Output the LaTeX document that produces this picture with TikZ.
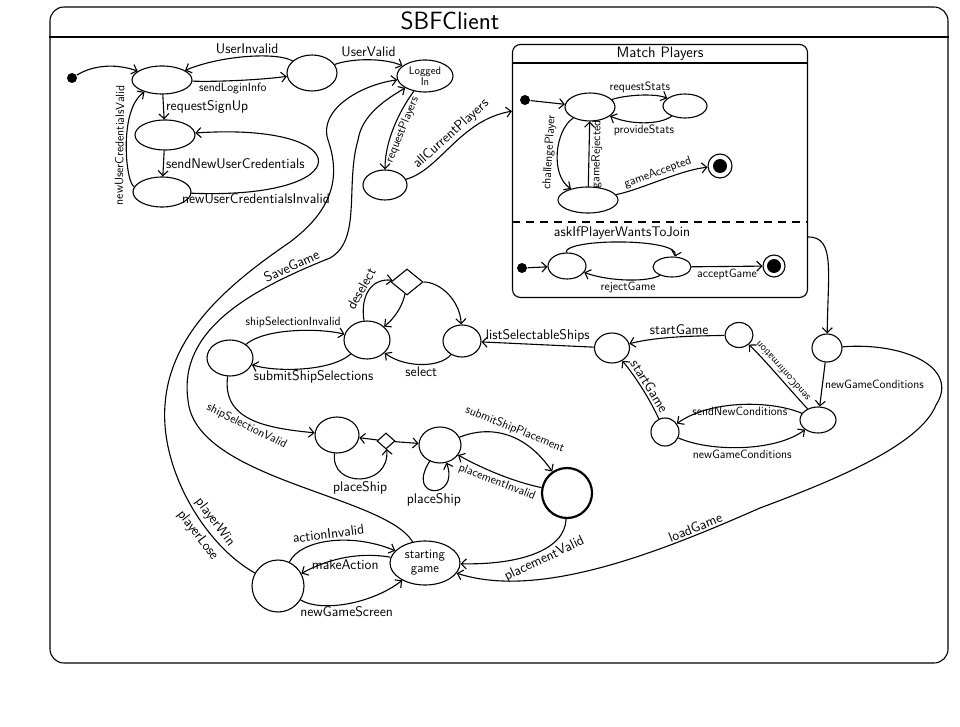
\documentclass[tikz,border=0pt]{standalone}
\usepackage{fontspec}
\usetikzlibrary{shapes.geometric}
\usetikzlibrary{arrows.meta}

\begin{document}
\begin{tikzpicture}[x=1pt, y=-1pt, line width=1.1pt,
>={Straight Barb[length=5pt, width=10pt]},
state/.style = {draw, ellipse, inner sep=0, minimum width=44, minimum height=32},
start dot/.style = {circle, fill, inner sep=0, minimum size=10},
end dot/.style = {draw, circle, inner sep=0, minimum size=24, path picture={\fill (path picture bounding box.center) circle[radius=7pt];}},
choice/.style = {draw, diamond, inner sep=0, minimum width=32, minimum height=26},
event/.style = {font=\sffamily\fontsize{14}{16}\selectfont, inner sep=2},
small event/.style = {font=\sffamily\fontsize{12}{14}\selectfont, inner sep=2}]

\useasboundingbox (0, 0) rectangle (960, 727);

\node[draw, rounded corners=14, minimum width=898, minimum height=656] (sbf client) at (499, 335) {};
\node[font=\sffamily\fontsize{25}{28}\selectfont] (sbf title) at (450, 21) {SBFClient};
\draw (sbf client.west |- 0,37) -- (sbf client.east |- 0,37);

\node[start dot] (login start) at (72, 78) {};
\node[state, minimum width=60, minimum height=28] (login) at (162, 80) {};
\node[state, minimum width=60, minimum height=30] (sign up) at (165, 135) {};
\node[state, minimum width=58, minimum height=30] (credentials) at (162, 192) {};
\node[state, minimum width=50, minimum height=36] (validating) at (312, 73) {};
\node[state, minimum width=56, minimum height=32, font=\sffamily\fontsize{11}{11}\selectfont, align=center] (logged in) at (425, 76) {Logged\\In};
\node[state, minimum width=44, minimum height=30] (player list) at (385, 185) {};

\node[draw, rounded corners=8, minimum width=295, minimum height=253] (match players) at (660, 171) {};
\node[font=\sffamily\fontsize{15}{17}\selectfont] (match title) at (660, 54) {Match Players};
\draw (match players.west |- 0,63) -- (match players.east |- 0,63);
\draw[dash pattern=on 8pt off 6pt] (match players.west |- 0,222) -- (match players.east |- 0,222);

\node[start dot] (match init) at (525, 100) {};
\node[state, minimum width=50, minimum height=28] (matching) at (590, 107) {};
\node[state, minimum width=44, minimum height=24] (stats) at (685, 106) {};
\node[state, minimum width=60, minimum height=26] (challenge) at (588, 200) {};
\node[end dot] (match final) at (720, 166) {};
\node[start dot] (join init) at (522, 268) {};
\node[state, minimum width=38, minimum height=26] (asking) at (567, 266) {};
\node[state, minimum width=38, minimum height=20] (waiting) at (672, 267) {};
\node[end dot, minimum size=22] (join final) at (774, 266) {};

\node[state, minimum width=46, minimum height=36] (selection) at (230, 358) {};
\node[state, minimum width=46, minimum height=38] (selecting) at (367, 340) {};
\node[choice] (select choice) at (407, 282) {};
\node[state, minimum width=38, minimum height=32] (ship list) at (462, 341) {};
\node[state, minimum width=44, minimum height=36] (placing) at (337, 435) {};
\node[choice, minimum width=18, minimum height=16] (place choice) at (386, 441) {};
\node[state, minimum width=42, minimum height=36] (placed) at (440, 445) {};
\node[draw, circle, line width=2.2pt, minimum size=50] (submitting) at (567, 493) {};
\node[state, minimum width=35, minimum height=30] (received) at (612, 348) {};
\node[state, minimum width=28, minimum height=25] (confirmed) at (739, 335) {};
\node[state, minimum width=30, minimum height=28] (conditions) at (827, 348) {};
\node[state, minimum width=36, minimum height=26] (confirming) at (818, 420) {};
\node[state, minimum width=28, minimum height=28] (new conditions) at (665, 432) {};
\node[draw, circle, minimum size=52] (player turn) at (278, 586) {};
\node[state, minimum width=70, minimum height=44, font=\sffamily\fontsize{13}{14}\selectfont, align=center] (starting game) at (425, 563) {starting\\game};

\draw[->] (login start) .. controls (95, 64) and (118, 64) .. (login);
\draw[->] (login) .. controls (215, 82) and (260, 80) .. (validating) node[small event, below, pos=.45] {sendLoginInfo};
\draw[->] (validating) .. controls (278, 52) and (222, 55) .. (login) node[event, above, pos=.5] {UserInvalid};
\draw[->] (validating) .. controls (352, 58) and (385, 58) .. (logged in) node[event, above, pos=.5] {UserValid};
\draw[->] (login) -- (sign up) node[event, right, midway] {requestSignUp};
\draw[->] (sign up) -- (credentials) node[event, right, midway] {sendNewUserCredentials};
\draw[->] (credentials) .. controls (360, 200) and (360, 122) .. (sign up) node[event, below, pos=.15] {newUserCredentialsInvalid};
\draw[->] (credentials) .. controls (126, 185) and (118, 110) .. (login) node[small event, above, sloped, pos=.5] {newUserCredentialsValid};
\draw[->] (logged in) .. controls (400, 110) and (385, 140) .. (player list) node[small event, below=1pt, sloped, pos=.5] {requestPlayers};
\draw[->] (player list) .. controls (440, 170) and (460, 120) .. (match players.158) node[event, above, sloped, pos=.55] {allCurrentPlayers};

\draw[->] (player turn) .. controls (205, 545) and (160, 470) .. (165, 405) node[event, above=2pt, sloped, pos=.35] {playerWin} node[event, below=2pt, sloped, pos=.35] {playerLose} .. controls (170, 330) and (235, 280) .. (290, 242) .. controls (330, 212) and (342, 180) .. (328, 140) .. controls (318, 110) and (360, 85) .. (logged in);
\draw[->] (starting game) .. controls (385, 495) and (195, 480) .. (188, 400) .. controls (178, 330) and (250, 290) .. (330, 258) node[event, above, sloped, pos=.85] {SaveGame} .. controls (362, 240) and (345, 185) .. (358, 140) .. controls (362, 115) and (385, 100) .. (logged in);

\draw[->] (match init) -- (matching);
\draw[->] (matching) .. controls (625, 95) and (655, 93) .. (stats) node[small event, above, pos=.5] {requestStats};
\draw[->] (stats) .. controls (660, 125) and (630, 125) .. (matching) node[small event, below, pos=.5] {provideStats};
\draw[->] (matching) .. controls (555, 130) and (550, 175) .. (challenge) node[small event, above, sloped, pos=.5] {challengePlayer};
\draw[->] (challenge) -- (matching) node[small event, below, sloped, midway] {gameRejected};
\draw[->] (challenge) .. controls (640, 190) and (680, 170) .. (match final) node[small event, above, sloped, pos=.5] {gameAccepted};
\draw[->] (join init) -- (asking);
\draw[->] (asking) .. controls (565, 238) and (680, 238) .. (waiting) node[event, above, pos=.5] {askIfPlayerWantsToJoin};
\draw[->] (waiting) .. controls (650, 282) and (610, 282) .. (asking) node[small event, below, pos=.5] {rejectGame};
\draw[->] (waiting) -- (join final) node[small event, below, midway] {acceptGame};
\draw[->] (match players.-24) .. controls (835, 237) and (828, 270) .. (conditions);

\draw[->] (conditions) -- (confirming) node[small event, right, midway] {newGameConditions};
\draw[->] (confirming) .. controls (790, 390) and (765, 360) .. (confirmed) node[small event, font=\sffamily\fontsize{10.5}{12}\selectfont, below, sloped, allow upside down, pos=.5] {sendConfirmation};
\draw[->] (confirmed) .. controls (700, 336) and (660, 336) .. (received) node[event, above, pos=.5] {startGame};
\draw[->] (new conditions) .. controls (650, 400) and (638, 380) .. (received) node[event, above, sloped, pos=.5] {startGame};
\draw[->] (confirming) .. controls (770, 400) and (710, 400) .. (new conditions) node[small event, below, pos=.5] {sendNewConditions};
\draw[->] (new conditions) .. controls (710, 452) and (775, 452) .. (confirming) node[small event, below, pos=.5] {newGameConditions};
\draw[->] (received) -- (ship list) node[event, above, midway] {listSelectableShips};
\draw[->] (conditions) .. controls (905, 342) and (960, 368) .. (936, 405) .. controls (920, 445) and (835, 480) .. (760, 508) .. controls (660, 552) and (540, 600) .. (starting game) node[event, above, sloped, pos=.2] {loadGame};

\draw[->] (ship list) .. controls (440, 368) and (405, 368) .. (selecting) node[event, below, pos=.5] {select};
\draw[->] (selecting) .. controls (360, 295) and (372, 278) .. (select choice) node[event, above, sloped, pos=.45] {deselect};
\draw[->] (select choice) .. controls (403, 305) and (395, 318) .. (selecting);
\draw[->] (select choice) .. controls (440, 282) and (460, 300) .. (ship list);
\draw[->] (selecting) .. controls (330, 372) and (275, 372) .. (selection) node[event, below, pos=.4] {submitShipSelections};
\draw[->] (selection) .. controls (265, 328) and (320, 328) .. (selecting) node[small event, above, pos=.5] {shipSelectionInvalid};
\draw[->] (selection) .. controls (222, 420) and (265, 428) .. (placing) node[small event, below, sloped, pos=.5] {shipSelectionValid};
\draw[->] (place choice) -- (placing);
\draw[->] (place choice) -- (placed);
\draw[->] (placing) .. controls (330, 488) and (390, 488) .. (place choice) node[event, below, pos=.5] {placeShip};
\draw[->] (placed) .. controls (405, 500) and (460, 500) .. (placed) node[event, below, pos=.5] {placeShip};
\draw[->] (placed) .. controls (490, 425) and (525, 432) .. (submitting) node[small event, above, sloped, pos=.55] {submitShipPlacement};
\draw[->] (submitting) .. controls (515, 482) and (485, 470) .. (placed) node[small event, below, sloped, pos=.5] {placementInvalid};
\draw[->] (submitting) .. controls (565, 550) and (520, 565) .. (starting game) node[event, below, sloped, pos=.45] {placementValid};

\draw[->] (player turn) .. controls (300, 540) and (350, 532) .. (starting game) node[event, above, sloped, pos=.5] {actionInvalid};
\draw[->] (starting game) .. controls (360, 552) and (330, 558) .. (player turn) node[event, below, pos=.5] {makeAction};
\draw[->] (player turn) .. controls (320, 612) and (370, 605) .. (starting game) node[event, below, pos=.5] {newGameScreen};

\end{tikzpicture}
\end{document}
